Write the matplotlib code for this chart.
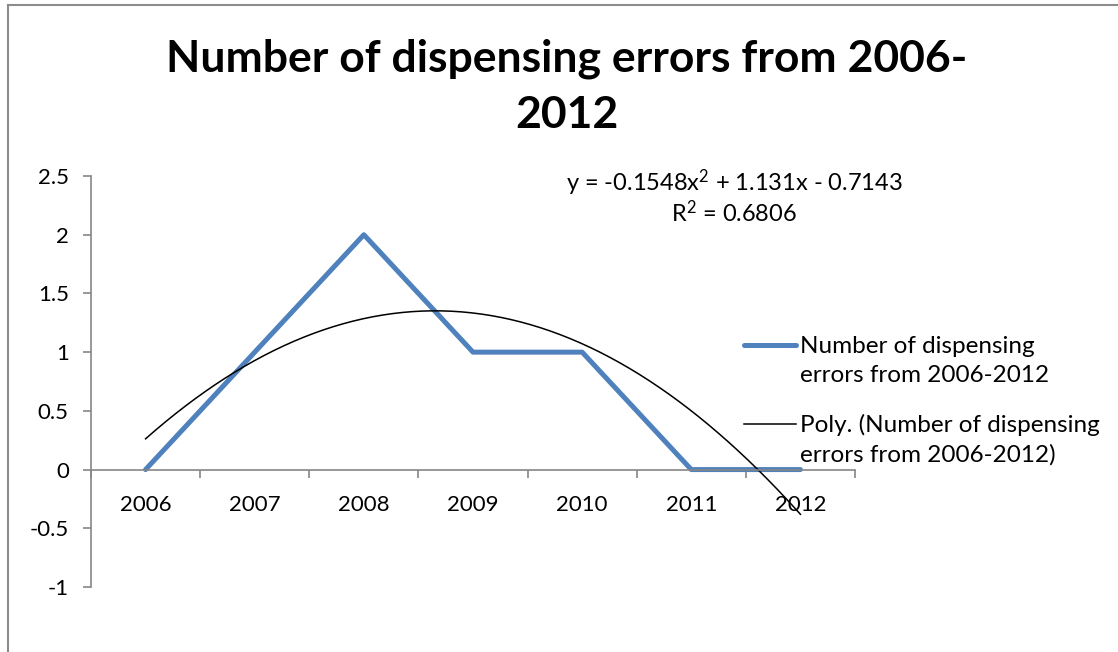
import numpy as np
import matplotlib
matplotlib.use("Agg")
import matplotlib.pyplot as plt
from matplotlib.lines import Line2D

plt.rcParams['font.family'] = ['Lato', 'DejaVu Sans']
plt.rcParams['mathtext.fontset'] = 'custom'
plt.rcParams['mathtext.rm'] = 'Lato'
plt.rcParams['mathtext.it'] = 'Lato:italic'

years = ['2006', '2007', '2008', '2009', '2010', '2011', '2012']
errors = [0, 1, 2, 1, 1, 0, 0]
series_name = 'Number of dispensing\nerrors from 2006-2012'
trend_name = 'Poly. (Number of dispensing\nerrors from 2006-2012)'
title = 'Number of dispensing errors from 2006-\n2012'

blue = '#4F81BD'
grey = '#868686'

x = np.arange(1, len(years) + 1)
coef = np.polyfit(x, errors, 2)
fit = np.poly1d(coef)
resid = np.array(errors) - fit(x)
r2 = 1 - np.sum(resid ** 2) / np.sum((np.array(errors) - np.mean(errors)) ** 2)

fig = plt.figure(figsize=(11.18, 6.52), dpi=100)
W, H = 1118, 652

# outer chart border (top and left edges)
fig.add_artist(Line2D([8 / W, 8 / W], [0, 1 - 5 / H], color='#8c8c8c', lw=1.5))
fig.add_artist(Line2D([8 / W, 1], [1 - 5 / H, 1 - 5 / H], color='#8c8c8c', lw=1.5))

ax = fig.add_axes([91 / W, 1 - 587 / H, (855 - 91) / W, (587 - 176) / H])
ax.plot(x, errors, color=blue, lw=3.6, solid_capstyle='round')
xs = np.linspace(1, 7, 200)
ax.plot(xs, fit(xs), color='black', lw=1.1)

ax.set_xlim(0.5, 7.5)
ax.set_ylim(-1, 2.5)
ax.set_yticks([-1, -0.5, 0, 0.5, 1, 1.5, 2, 2.5])
ax.set_yticklabels(['-1', '-0.5', '0', '0.5', '1', '1.5', '2', '2.5'])
ax.set_xticks(x)
ax.set_xticklabels(years)
ax.set_xticks(np.arange(0.5, 8, 1), minor=True)

for s in ['top', 'right']:
    ax.spines[s].set_visible(False)
ax.spines['bottom'].set_position(('data', 0))
for s in ['left', 'bottom']:
    ax.spines[s].set_color(grey)
    ax.spines[s].set_linewidth(1.2)

ax.tick_params(axis='y', direction='out', length=6, width=1.2, color=grey,
               labelsize=16, pad=10)
ax.tick_params(axis='x', which='major', length=0, labelsize=16, pad=18)
ax.tick_params(axis='x', which='minor', direction='out', length=6, width=1.2, color=grey)
ax.patch.set_alpha(0)

fig.text(567 / W, 1 - 87 / H, title, ha='center', va='center',
         fontsize=32, fontweight='bold', linespacing=1.47)

# trendline equation, two centred lines
eq_line = 'y = %.4f$\\mathregular{x^2}$ + %.3fx - %.4f' % (coef[0], coef[1], -coef[2])
r2_line = 'R$\\mathregular{^2}$ = %.4f' % r2
fig.text(734 / W, 1 - 183 / H, eq_line, ha='center', va='center', fontsize=17)
fig.text(734 / W, 1 - 213 / H, r2_line, ha='center', va='center', fontsize=17)

# legend entries
fig.add_artist(Line2D([744 / W, 796 / W], [1 - 345 / H] * 2, color=blue, lw=3.6,
                      solid_capstyle='round'))
fig.add_artist(Line2D([744 / W, 796 / W], [1 - 424 / H] * 2, color='black', lw=1.1))
fig.text(800 / W, 1 - 361 / H, series_name, ha='left', va='center', fontsize=17.5,
         linespacing=1.45)
fig.text(800 / W, 1 - 440 / H, trend_name, ha='left', va='center', fontsize=17.5,
         linespacing=1.45)

fig.savefig('out.png', dpi=100)
